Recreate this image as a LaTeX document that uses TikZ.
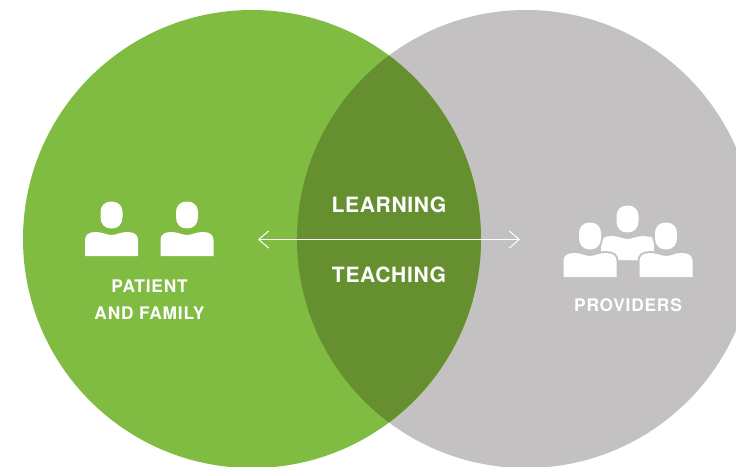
\documentclass[tikz,border=0pt]{standalone}
\usepackage{fontspec}
\setmainfont{TeX Gyre Heros}
\usetikzlibrary{arrows.meta}
\usetikzlibrary{positioning}
\definecolor{leafgreen}{HTML}{80BC42}
\definecolor{darkgreen}{HTML}{668F30}
\definecolor{softgray}{HTML}{C3C1C2}
\tikzset{main node/.style={circle,draw=none,minimum size=343.5pt,inner sep=0pt}}
\tikzset{big label/.style={text=white,font=\bfseries\fontsize{15.8}{18}\selectfont\addfontfeature{LetterSpace=3},inner sep=0pt}}
\tikzset{small label/.style={text=white,font=\bfseries\fontsize{13}{20.2}\selectfont\addfontfeature{LetterSpace=4.5},inner sep=0pt,align=center}}
\tikzset{person/.pic={
    \path[pic actions] (0,-13.5) .. controls (7,-13.5) and (11,-9) .. (11,-3) -- (11,2)
        .. controls (11,9) and (7,13.5) .. (0,13.5) .. controls (-7,13.5) and (-11,9) .. (-11,2)
        -- (-11,-3) .. controls (-11,-9) and (-7,-13.5) .. (0,-13.5) -- cycle;
    \path[pic actions] (-26.5,41) -- (-26.5,25) .. controls (-26.5,20) and (-23,17) .. (-16,17)
        .. controls (-9,17) and (-5,20) .. (0,20) .. controls (5,20) and (9,17) .. (16,17)
        .. controls (23,17) and (26.5,20) .. (26.5,25) -- (26.5,41) -- cycle;
}}

\begin{document}
\begin{tikzpicture}[x=0.75pt,y=-0.75pt]
    \clip (0,0) rectangle (736,467);
    \fill[white] (0,0) rectangle (736,467);

    \node[main node,fill=softgray] (providers) at (526,239) {};
    \node[main node,fill=leafgreen] (patient) at (252,239) {};
    \begin{scope}
        \clip (252,239) circle [radius=229];
        \fill[darkgreen] (526,239) circle [radius=229];
    \end{scope}

    % icons
    \pic[fill=white] at (111.5,215) {person};
    \pic[fill=white] at (187,215) {person};
    \pic[fill=white] at (627.5,219) {person};
    \fill[white] (605,237) .. controls (613,236) and (621,241) .. (628,241)
        .. controls (635,241) and (643,236) .. (652,237) -- (652,245) -- (637,260) -- (622,260) -- (605,245) -- cycle;
    \pic[draw=softgray,line width=3pt] at (590,236) {person};
    \pic[draw=softgray,line width=3pt] at (666,236) {person};
    \pic[fill=white] at (590,236) {person};
    \pic[fill=white] at (666,236) {person};

    % labels
    \node[big label] (learning) at (389,204.5) {LEARNING};
    \node[big label] (teaching) at (389,274.5) {TEACHING};
    \node[small label] (family) at (149.5,300) {PATIENT\\AND FAMILY};
    \node[small label] (prov) at (628,305.5) {PROVIDERS};

    \coordinate (a_{1}) at (258,239.5);
    \coordinate (a_{2}) at (520,239.5);
    \draw[{Straight Barb[length=7.5pt,width=13pt]}-{Straight Barb[length=7.5pt,width=13pt]},white,line width=0.75pt] (a_{1}) -- (a_{2});
\end{tikzpicture}
\end{document}
